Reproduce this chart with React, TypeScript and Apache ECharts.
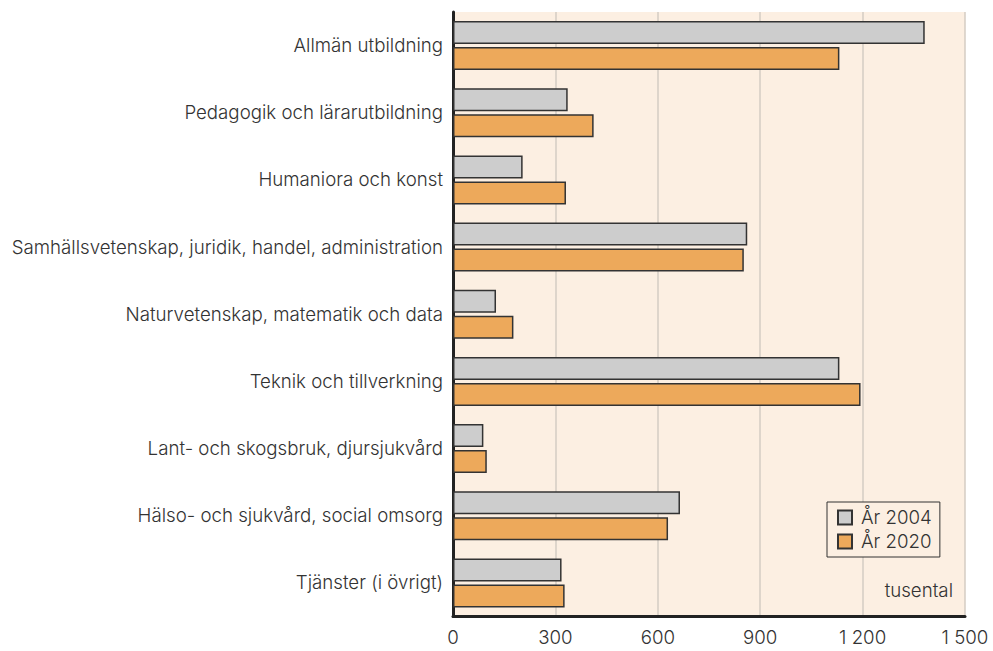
import React, { useEffect, useRef } from "react";
import * as echarts from "echarts";

const categories = [
  "Allmän utbildning",
  "Pedagogik och lärarutbildning",
  "Humaniora och konst",
  "Samhällsvetenskap, juridik, handel, administration",
  "Naturvetenskap, matematik och data",
  "Teknik och tillverkning",
  "Lant- och skogsbruk, djursjukvård",
  "Hälso- och sjukvård, social omsorg",
  "Tjänster (i övrigt)",
];
const values2004 = [1382, 336, 204, 862, 126, 1132, 89, 665, 318];
const values2020 = [1132, 412, 331, 852, 177, 1194, 99, 630, 327];
const seriesNames = ["År 2004", "År 2020"];
const unitLabel = "tusental";

const FONT = "Inter, 'Liberation Sans', Arial, sans-serif";
const FS = 18.7;
const FW = 300;

export default function App() {
  const ref = useRef<HTMLDivElement>(null);
  useEffect(() => {
    if (!ref.current) return;
    const chart = echarts.init(ref.current, undefined, { renderer: "svg" });
    chart.setOption({
      animation: false,
      backgroundColor: "#ffffff",
      textStyle: { fontFamily: FONT },
      grid: {
        left: 453,
        right: 28,
        top: 12,
        bottom: 34.5,
        show: true,
        backgroundColor: "#fcefe2",
        borderWidth: 0,
      },
      legend: {
        orient: "vertical",
        left: 827,
        top: 502,
        padding: [6, 8, 6, 10],
        itemGap: 5,
        itemWidth: 14,
        itemHeight: 14,
        backgroundColor: "#fcefe2",
        borderColor: "#333",
        borderWidth: 1,
        borderRadius: 0,
        icon: "rect",
        textStyle: { fontSize: FS, fontWeight: FW, color: "#333", fontFamily: FONT, padding: [0, 0, 0, 4] },
        data: seriesNames,
      },
      xAxis: {
        type: "value",
        min: 0,
        max: 1500,
        interval: 300,
        axisLine: { show: true, onZero: false, lineStyle: { color: "#222", width: 3 } },
        axisTick: { show: false },
        splitLine: { show: true, lineStyle: { color: "#d4ccc3", width: 1.5 } },
        axisLabel: {
          color: "#333",
          fontSize: FS,
          fontWeight: FW,
          fontFamily: FONT,
          margin: 11,
          formatter: (v: number) => String(v).replace(/\B(?=(\d{3})+(?!\d))/g, "\u00a0"),
        },
      },
      yAxis: {
        type: "category",
        data: categories,
        inverse: true,
        axisLine: { show: true, lineStyle: { color: "#222", width: 3 } },
        axisTick: { show: false },
        splitLine: { show: false },
        axisLabel: { color: "#333", fontSize: FS, fontWeight: FW, fontFamily: FONT, margin: 10 },
      },
      series: [
        {
          name: seriesNames[0],
          type: "bar",
          data: values2004,
          barWidth: 23,
          barGap: "13%",
          itemStyle: { color: "#cdcdcd", borderColor: "#333", borderWidth: 1.5 },
        },
        {
          name: seriesNames[1],
          type: "bar",
          data: values2020,
          barWidth: 23,
          barGap: "13%",
          itemStyle: { color: "#eda95b", borderColor: "#333", borderWidth: 1.5 },
        },
      ],
      graphic: [
        {
          type: "text",
          right: 40,
          top: 581,
          style: { text: unitLabel, fontSize: FS, fontWeight: FW, fill: "#333", fontFamily: FONT },
        },
      ],
    });
    return () => chart.dispose();
  }, []);
  return <div ref={ref} style={{ width: 993, height: 651, position: "absolute", left: 0, top: 0 }} />;
}
